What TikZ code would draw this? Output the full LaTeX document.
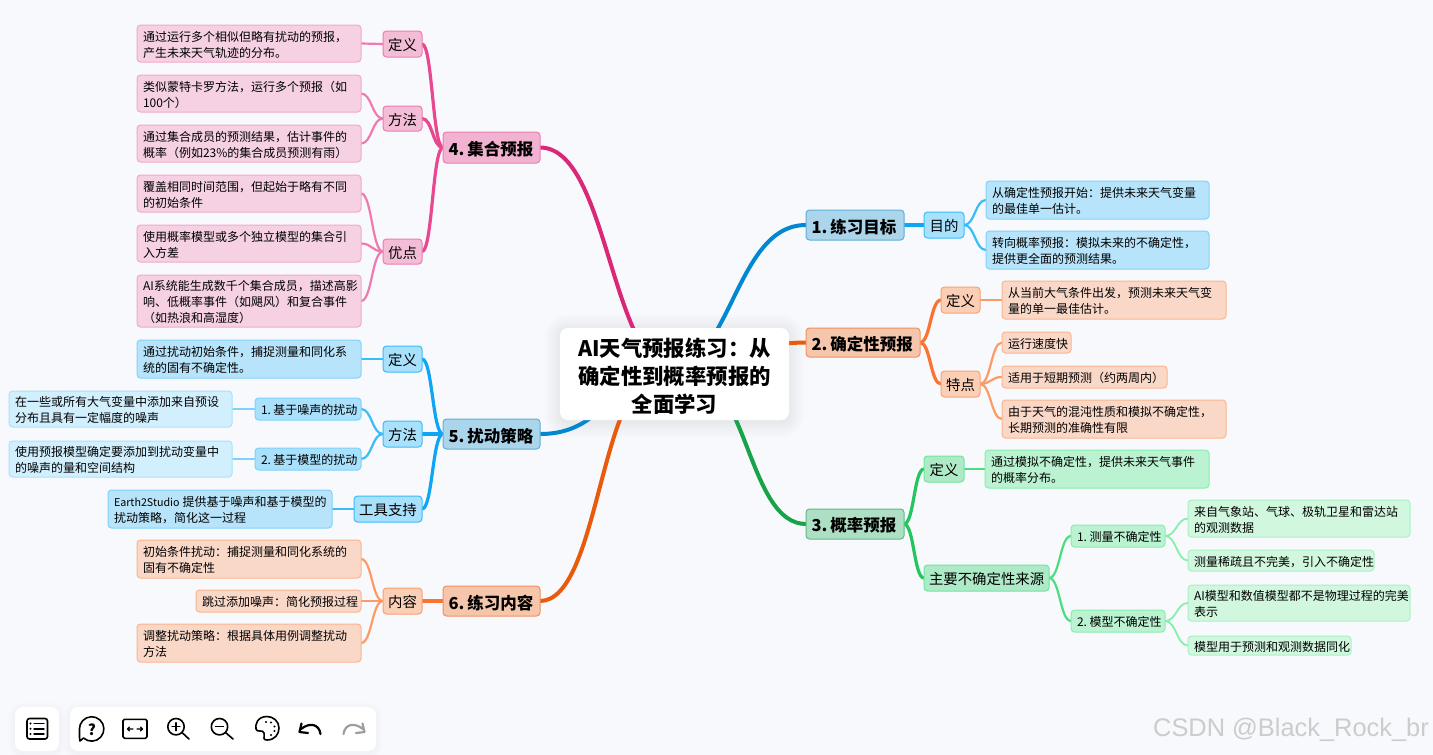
\documentclass[tikz,border=0pt]{standalone}
\usepackage{fontspec}
\setmainfont{Noto Sans CJK SC}
\newfontfamily\wmfont{Liberation Sans}
\usetikzlibrary{calc}
\pgfdeclarelayer{bg}
\pgfsetlayers{bg,main}
\definecolor{pagebg}{HTML}{F8F9FC}
\definecolor{bA}{HTML}{0288D1}\definecolor{bB}{HTML}{0EA5F5}\definecolor{bC}{HTML}{38BDF8}\definecolor{bD}{HTML}{7DD3FC}
\definecolor{oA}{HTML}{E95A0C}\definecolor{oB}{HTML}{F97432}\definecolor{oC}{HTML}{FD9A66}
\definecolor{gA}{HTML}{16A34A}\definecolor{gB}{HTML}{22C55E}\definecolor{gC}{HTML}{4ADE80}\definecolor{gD}{HTML}{86EFAC}
\definecolor{pA}{HTML}{DB2777}\definecolor{pB}{HTML}{E8488F}\definecolor{pC}{HTML}{F07AB0}
\definecolor{fillBT}{HTML}{AAD5EA}\definecolor{lineBT}{HTML}{5FB0D8}\definecolor{fillBC}{HTML}{A9E0FB}\definecolor{lineBC}{HTML}{38BDF8}
\definecolor{fillBL}{HTML}{B8E4FB}\definecolor{lineBL}{HTML}{7DD3FC}\definecolor{fillBD}{HTML}{D2EFFE}\definecolor{lineBD}{HTML}{A8E2FD}
\definecolor{fillOT}{HTML}{F6C6AC}\definecolor{lineOT}{HTML}{F2905E}\definecolor{fillOC}{HTML}{FBCFB6}\definecolor{lineOC}{HTML}{FBA070}
\definecolor{fillOL}{HTML}{FAD8C8}\definecolor{lineOL}{HTML}{FDB48E}
\definecolor{fillGT}{HTML}{AEDFC4}\definecolor{lineGT}{HTML}{5FBB88}\definecolor{fillGC}{HTML}{AEEAC7}\definecolor{lineGC}{HTML}{6EE7A0}
\definecolor{fillGL}{HTML}{BBF3D2}\definecolor{lineGL}{HTML}{86EFAC}\definecolor{fillGD}{HTML}{D1F7DF}\definecolor{lineGD}{HTML}{A8F2C4}
\definecolor{fillPT}{HTML}{F1B3D1}\definecolor{linePT}{HTML}{EC7FB0}\definecolor{fillPC}{HTML}{F3BDD7}\definecolor{linePC}{HTML}{F07AB0}
\definecolor{fillPL}{HTML}{F5D1E3}\definecolor{linePL}{HTML}{F4A8CB}
\tikzset{
  base/.style={rounded corners=3.5pt,draw,line width=1pt,outer sep=0pt,inner ysep=0pt,inner xsep=5pt,text=black},
  fontS/.style={align=left,font=\fontsize{12}{16}\selectfont,execute at begin node={\leftskip=1pt\relax\rule{0pt}{1.05em}\ignorespaces}},
  fontM/.style={align=center,font=\fontsize{14.4}{18}\selectfont,execute at begin node={\rule{0pt}{1.02em}\ignorespaces}},
  fontL/.style={align=left,font=\fontsize{16.5}{20}\selectfont\bfseries,execute at begin node={\leftskip=0.5pt\relax\rule{0pt}{1.07em}\ignorespaces}},
  bT/.style={base,fontL,fill=fillBT,draw=lineBT},
  bC1/.style={base,fontM,fill=fillBC,draw=lineBC},
  bL/.style={base,fontS,fill=fillBL,draw=lineBL},
  bS/.style={base,fontS,fill=fillBC,draw=lineBL},
  bLL/.style={base,fontS,fill=fillBD,draw=lineBD},
  oT/.style={base,fontL,fill=fillOT,draw=lineOT},
  oC1/.style={base,fontM,fill=fillOC,draw=lineOC},
  oL/.style={base,fontS,fill=fillOL,draw=lineOL},
  gT/.style={base,fontL,fill=fillGT,draw=lineGT},
  gC1/.style={base,fontM,fill=fillGC,draw=lineGC},
  gL/.style={base,fontS,fill=fillGL,draw=lineGL},
  gS/.style={base,fontS,fill=fillGL,draw=lineGL},
  gLL/.style={base,fontS,fill=fillGD,draw=lineGD},
  pT/.style={base,fontL,fill=fillPT,draw=linePT},
  pC1/.style={base,fontM,fill=fillPC,draw=linePC},
  pL/.style={base,fontS,fill=fillPL,draw=linePL},
  rootbox/.style={rounded corners=8pt,fill=white,draw=none,outer sep=0pt,inner sep=0pt,align=center,text=black,
    font=\fontsize{21.4}{28}\selectfont\bfseries,execute at begin node={\rule{0pt}{1.08em}\ignorespaces}},
  panel/.style={rounded corners=8pt,fill=white,draw=none},
  icon/.style={draw=black,line width=1.6pt,line cap=round,line join=round},
  iconoff/.style={draw=black!38,line width=2pt,line cap=round,line join=round},
  e1/.style={line width=4pt,line cap=round},
  e2/.style={line width=3.2pt,line cap=round},
  e3/.style={line width=2.2pt,line cap=round},
  e4/.style={line width=1.8pt,line cap=round},
}
\newcommand\bx[7]{%
  \pgfmathsetmacro\myw{#5-#3}\pgfmathsetmacro\myh{#6-#4}\pgfmathsetmacro\mytw{#5-#3-10}%
  \pgfmathsetmacro\mycx{(#3+#5)/2}\pgfmathsetmacro\mycy{(#4+#6)/2}%
  \node[#1,minimum width=\myw pt,minimum height=\myh pt,text width=\mytw pt] (#2) at (\mycx,\mycy) {#7};}
\newcommand\lnk[3]{\draw[#1] (#2) .. controls ($(#2)!.5!(#3 |- #2)$) and ($(#3)!.5!(#2 |- #3)$) .. (#3);}
\newcommand\softshadow[5]{\foreach \s in {1,...,#5}{\pgfmathsetmacro\rr{8+\s}\fill[black,opacity=.0035,rounded corners=\rr pt] (#1-\s,#2-\s+2) rectangle (#3+\s,#4+\s+2);}}
\begin{document}
\begin{tikzpicture}[x=1pt,y=-1pt]
\useasboundingbox (0,0) rectangle (1433,755);
\begin{pgfonlayer}{bg}
\fill[pagebg] (0,0) rectangle (1433,755);
\softshadow{560}{328}{789}{420}{16}
\end{pgfonlayer}
% root
\node[rootbox,minimum width=229pt,minimum height=92pt,text width=229pt] (root) at (674.5,374) {AI天气预报练习：从\\确定性到概率预报的\\全面学习};
\coordinate (rL) at ($(root.center)+(-15,0)$);
\coordinate (rR) at ($(root.center)+(15,0)$);
\coordinate (rP) at ($(root.center)+(5,0)$);
% topics
\bx{bT}{t1}{806}{210}{904}{240}{1.\kern3pt 练习目标}
\bx{oT}{t2}{806}{328}{920}{357}{2.\kern3pt 确定性预报}
\bx{gT}{t3}{806}{509}{904}{539}{3.\kern3pt 概率预报}
\bx{pT}{t4}{443}{132}{540}{163}{4.\kern3pt 集合预报}
\bx{bT}{t5}{443}{419}{540}{449}{5.\kern3pt 扰动策略}
\bx{oT}{t6}{443}{586}{540}{616}{6.\kern3pt 练习内容}
% topic 1
\bx{bC1}{a}{924}{212}{964}{238}{目的}
\bx{bL}{a1}{986}{181}{1209}{219}{从确定性预报开始：提供未来天气变量\\的最佳单一估计。}
\bx{bL}{a2}{986}{231}{1209}{269}{转向概率预报：模拟未来的不确定性，\\提供更全面的预测结果。}
% topic 2
\bx{oC1}{b}{941}{287}{980}{313}{定义}
\bx{oC1}{c}{941}{371}{980}{397}{特点}
\bx{oL}{b1}{1002}{281}{1226}{319}{从当前大气条件出发，预测未来天气变\\量的单一最佳估计。}
\bx{oL}{c1}{1002}{332}{1071}{353}{运行速度快}
\bx{oL}{c2}{1002}{366}{1167}{388}{适用于短期预测（约两周内）}
\bx{oL}{c3}{1002}{400}{1226}{438}{由于天气的混沌性质和模拟不确定性，\\长期预测的准确性有限}
% topic 3
\bx{gC1}{d}{924}{456}{964}{482}{定义}
\bx{gL}{d1}{985}{450}{1209}{488}{通过模拟不确定性，提供未来天气事件\\的概率分布。}
\bx{gC1}{e}{924}{565}{1049}{591}{主要不确定性来源}
\bx{gS}{e1}{1071}{525}{1165}{547}{1.\kern2.5pt 测量不确定性}
\bx{gS}{e2}{1071}{610}{1165}{632}{2.\kern2.5pt 模型不确定性}
\bx{gLL}{f1}{1188}{500}{1410}{537}{来自气象站、气球、极轨卫星和雷达站\\的观测数据}
\bx{gLL}{f2}{1188}{550}{1374}{571}{测量稀疏且不完美，引入不确定性}
\bx{gLL}{f3}{1188}{585}{1410}{621}{AI模型和数值模型都不是物理过程的完美\\表示}
\bx{gLL}{f4}{1188}{636}{1351}{655}{模型用于预测和观测数据同化}
% topic 4
\bx{pC1}{g}{383}{31}{422}{57}{定义}
\bx{pC1}{h}{383}{106}{422}{131}{方法}
\bx{pC1}{i}{383}{239}{422}{264}{优点}
\bx{pL}{g1}{137}{25}{361}{62}{通过运行多个相似但略有扰动的预报，\\产生未来天气轨迹的分布。}
\bx{pL}{h1}{137}{75}{361}{112}{类似蒙特卡罗方法，运行多个预报（如\\100个）}
\bx{pL}{h2}{137}{125}{361}{162}{通过集合成员的预测结果，估计事件的\\概率（例如23\%的集合成员预测有雨）}
\bx{pL}{i1}{137}{175}{361}{212}{覆盖相同时间范围，但起始于略有不同\\的初始条件}
\bx{pL}{i2}{137}{225}{361}{262}{使用概率模型或多个独立模型的集合引\\入方差}
\bx{pL}{i3}{137}{275}{361}{327}{AI系统能生成数千个集合成员，描述高影\\响、低概率事件（如飓风）和复合事件\\（如热浪和高湿度）}
% topic 5
\bx{bC1}{j}{383}{346}{422}{372}{定义}
\bx{bC1}{k}{383}{421}{422}{447}{方法}
\bx{bC1}{l}{354}{496}{422}{522}{工具支持}
\bx{bL}{j1}{137}{340}{361}{378}{通过扰动初始条件，捕捉测量和同化系\\统的固有不确定性。}
\bx{bS}{k1}{255}{398}{361}{420}{1.\kern2.5pt 基于噪声的扰动}
\bx{bS}{k2}{255}{448}{361}{470}{2.\kern2.5pt 基于模型的扰动}
\bx{bLL}{m1}{9}{391}{232}{427}{在一些或所有大气变量中添加来自预设\\分布且具有一定幅度的噪声}
\bx{bLL}{m2}{9}{441}{232}{477}{使用预报模型确定要添加到扰动变量中\\的噪声的量和空间结构}
\bx{bL}{l1}{108}{490}{332}{528}{{\fontsize{10.7}{16}\selectfont Earth2Studio}\kern3pt 提供基于噪声和基于模型的\\扰动策略，简化这一过程}
% topic 6
\bx{oC1}{n}{383}{588}{422}{614}{内容}
\bx{oL}{n1}{137}{540}{361}{578}{初始条件扰动：捕捉测量和同化系统的\\固有不确定性}
\bx{oL}{n2}{196}{590}{361}{612}{跳过添加噪声：简化预报过程}
\bx{oL}{n3}{137}{624}{361}{662}{调整扰动策略：根据具体用例调整扰动\\方法}
% connectors
\begin{pgfonlayer}{bg}
\lnk{e1,bA}{rL}{t1.west}
\lnk{e1,oA}{root.center}{t2.west}
\lnk{e1,gA}{rR}{t3.west}
\lnk{e1,pA}{rP}{t4.east}
\lnk{e1,bA}{root.center}{t5.east}
\lnk{e1,oA}{rL}{t6.east}
\lnk{e2,bB}{t1.east}{a.west}
\lnk{e3,bC}{a.east}{a1.west}
\lnk{e3,bC}{a.east}{a2.west}
\lnk{e2,oB}{t2.east}{b.west}
\lnk{e2,oB}{t2.east}{c.west}
\lnk{e3,oC}{b.east}{b1.west}
\lnk{e3,oC}{c.east}{c1.west}
\lnk{e3,oC}{c.east}{c2.west}
\lnk{e3,oC}{c.east}{c3.west}
\lnk{e2,gB}{t3.east}{d.west}
\lnk{e2,gB}{t3.east}{e.west}
\lnk{e3,gC}{d.east}{d1.west}
\lnk{e3,gC}{e.east}{e1.west}
\lnk{e3,gC}{e.east}{e2.west}
\lnk{e4,gD}{e1.east}{f1.west}
\lnk{e4,gD}{e1.east}{f2.west}
\lnk{e4,gD}{e2.east}{f3.west}
\lnk{e4,gD}{e2.east}{f4.west}
\lnk{e2,pB}{t4.west}{g.east}
\lnk{e2,pB}{t4.west}{h.east}
\lnk{e2,pB}{t4.west}{i.east}
\lnk{e3,pC}{g.west}{g1.east}
\lnk{e3,pC}{h.west}{h1.east}
\lnk{e3,pC}{h.west}{h2.east}
\lnk{e3,pC}{i.west}{i1.east}
\lnk{e3,pC}{i.west}{i2.east}
\lnk{e3,pC}{i.west}{i3.east}
\lnk{e2,bB}{t5.west}{j.east}
\lnk{e2,bB}{t5.west}{k.east}
\lnk{e2,bB}{t5.west}{l.east}
\lnk{e3,bC}{j.west}{j1.east}
\lnk{e3,bC}{k.west}{k1.east}
\lnk{e3,bC}{k.west}{k2.east}
\lnk{e3,bC}{l.west}{l1.east}
\lnk{e4,bD}{k1.west}{m1.east}
\lnk{e4,bD}{k2.west}{m2.east}
\lnk{e2,oB}{t6.west}{n.east}
\lnk{e3,oC}{n.west}{n1.east}
\lnk{e3,oC}{n.west}{n2.east}
\lnk{e3,oC}{n.west}{n3.east}
\softshadow{15}{707}{59}{751}{7}
\softshadow{70}{707}{376}{751}{7}
\end{pgfonlayer}
% toolbar
\fill[panel] (15,707) rectangle (59,751);
\fill[panel] (70,707) rectangle (376,751);
\draw[icon,rounded corners=2.5pt] (27,718.5) rectangle (47.5,739);
\foreach \yy in {723.5,728.8,734}{\draw[icon,line width=1.4pt] (34,\yy) -- (44,\yy); \fill (30.5,\yy) circle (1.1pt);}
% bubble
\draw[icon] (83.5,738) arc[start angle=132,end angle=-180,radius=12.2] -- (79.5,737.5) -- (80,741) -- (83.5,738);
\node[font=\fontsize{15}{15}\selectfont\bfseries,inner sep=0pt] (qm) at (92,729.5) {?};
% fit
\draw[icon,rounded corners=1.5pt] (123,719.3) rectangle (147,738.3);
\draw[icon,line width=1.3pt] (127.5,729) -- (133,729) (129.5,727) -- (127.5,729) -- (129.5,731);
\draw[icon,line width=1.3pt] (137,729) -- (142.5,729) (140.5,727) -- (142.5,729) -- (140.5,731);
% zoom in / out
\draw[icon] (176,726.7) circle (8.2); \draw[icon] (182,732.5) -- (189,739);
\draw[icon,line width=1.3pt] (172,726.7) -- (180,726.7) (176,722.7) -- (176,730.7);
\draw[icon] (219.5,726.7) circle (8.2); \draw[icon] (225.5,732.5) -- (233,739);
\draw[icon,line width=1.3pt] (215.5,726.7) -- (223.5,726.7);
% palette
\draw[icon] (267,716.5) .. controls (257,716.5) and (255,725) .. (256,729) .. controls (257,733) and (263,729) .. (264,733) .. controls (265,737) and (262,740) .. (267,740) .. controls (275,740) and (279,734) .. (279,728) .. controls (279,721) and (273,716.5) .. (267,716.5);
\foreach \px/\py in {266/722,271/722.5,274.5/726.5,274.5/731,271/735}{\fill (\px,\py) circle (1.1pt);}
% undo / redo
\draw[icon,line width=2.2pt] (320.5,734) .. controls (319,724) and (310,722) .. (301,729);
\draw[icon,line width=2.2pt] (301.5,723.5) -- (299.5,732) -- (308,733);
\draw[iconoff,line width=2.2pt] (343.5,734) .. controls (345,724) and (354,722) .. (363,729);
\draw[iconoff,line width=2.2pt] (362.5,723.5) -- (364.5,732) -- (356,733);
% watermark
\node[font=\fontsize{25.4}{27}\selectfont\wmfont,text=black!20,inner sep=0pt,anchor=east] (wm) at (1429,730) {CSDN @Black\_Rock\_br};
\end{tikzpicture}
\end{document}
